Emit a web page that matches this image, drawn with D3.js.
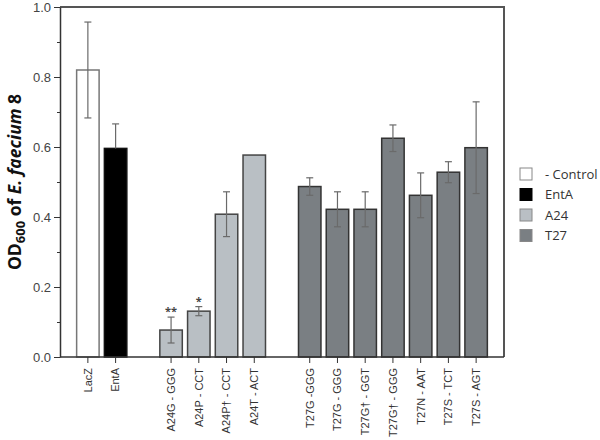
<!DOCTYPE html>
<html>
<head>
<meta charset="utf-8">
<script src="https://cdn.jsdelivr.net/npm/d3@7"></script>
<style>
  body { margin: 0; background: #fff; }
  svg { font-family: "Open Sans", "Noto Sans", sans-serif; }
</style>
</head>
<body>
<div id="chart"></div>
<script>
// bars, in order; blank entries are the empty slots between groups
var categories = ["LacZ", "EntA", "", "A24G - GGG", "A24P - CCT", "A24P\u2020 - CCT", "A24T - ACT", " ",
    "T27G -GGG", "T27G - GGG", "T27G\u2020 - GGT", "T27G\u2020 - GGG", "T27N - AAT", "T27S - TCT", "T27S - AGT"];
var groups = ["- Control", "EntA", null, "A24", "A24", "A24", "A24", null,
    "T27", "T27", "T27", "T27", "T27", "T27", "T27"];
var values = [0.82, 0.596, null, 0.077, 0.131, 0.408, 0.577, null,
    0.487, 0.422, 0.422, 0.625, 0.462, 0.528, 0.598];
var errors = [0.137, 0.07, null, 0.037, 0.013, 0.064, 0, null,
    0.025, 0.05, 0.05, 0.038, 0.064, 0.03, 0.131];
var marks = ["", "", "", "**", "*", "", "", "", "", "", "", "", "", "", ""];
var yTicks = [0, 0.2, 0.4, 0.6, 0.8, 1.0];
var yMinor = [0.1, 0.3, 0.5, 0.7, 0.9];
var legendLabels = ["- Control", "EntA", "A24", "T27"];

var width = 600, height = 440;
var plotLeft = 60, plotRight = 504, plotTop = 7, plotBottom = 357;

var color = d3.scaleOrdinal()
    .domain(legendLabels)
    .range(["#ffffff", "#000000", "#b9bfc4", "#7a7f83"]);
var strokeColor = d3.scaleOrdinal()
    .domain(legendLabels)
    .range(["#777", "#111", "#444", "#333"]);

var svg = d3.select("#chart").append("svg")
    .attr("width", width)
    .attr("height", height);

var x = d3.scaleBand()
    .domain(categories)
    .range([plotLeft, plotRight])
    .paddingInner(0.19)
    .paddingOuter(0.6);

var y = d3.scaleLinear()
    .domain([0, 1])
    .range([plotBottom, plotTop]);

var data = categories.map(function (c, i) {
    return { label: c, group: groups[i], value: values[i], err: errors[i], mark: marks[i] };
}).filter(function (d) { return d.group !== null; });

// frame (top and right)
svg.append("path")
    .attr("d", "M" + plotLeft + "," + plotTop + "H" + plotRight + "V" + plotBottom)
    .attr("fill", "none")
    .attr("stroke", "#555")
    .attr("stroke-width", 2);

// bars
svg.append("g").selectAll("rect")
    .data(data)
    .enter().append("rect")
    .attr("x", function (d) { return x(d.label); })
    .attr("y", function (d) { return y(d.value); })
    .attr("width", x.bandwidth())
    .attr("height", function (d) { return y(0) - y(d.value); })
    .attr("fill", function (d) { return color(d.group); })
    .attr("stroke", function (d) { return strokeColor(d.group); })
    .attr("stroke-width", 1.5);

// error bars
var eb = svg.append("g")
    .attr("stroke", "#6a6a6a")
    .attr("stroke-width", 1.2)
    .selectAll("g")
    .data(data.filter(function (d) { return d.err > 0; }))
    .enter().append("g")
    .attr("transform", function (d) { return "translate(" + (x(d.label) + x.bandwidth() / 2) + ",0)"; });
eb.append("line")
    .attr("y1", function (d) { return y(d.value + d.err); })
    .attr("y2", function (d) { return d.group === "EntA" ? y(d.value) : y(d.value - d.err); });
eb.append("line")
    .attr("x1", -3.5).attr("x2", 3.5)
    .attr("y1", function (d) { return y(d.value + d.err); })
    .attr("y2", function (d) { return y(d.value + d.err); });
eb.filter(function (d) { return d.group !== "EntA"; })
    .append("line")
    .attr("x1", -3.5).attr("x2", 3.5)
    .attr("y1", function (d) { return y(d.value - d.err); })
    .attr("y2", function (d) { return y(d.value - d.err); });

// significance marks
svg.append("g").selectAll("text")
    .data(data.filter(function (d) { return d.mark; }))
    .enter().append("text")
    .attr("x", function (d) { return x(d.label) + x.bandwidth() / 2; })
    .attr("y", function (d) { return y(d.value + d.err) - 2; })
    .attr("text-anchor", "middle")
    .attr("font-size", 11)
    .attr("font-weight", "bold")
    .attr("fill", "#444")
    .text(function (d) { return d.mark; });

// y axis
var yAxis = svg.append("g")
    .attr("transform", "translate(" + plotLeft + ",0)")
    .call(d3.axisLeft(y).tickValues(yTicks).tickFormat(d3.format(".1f")).tickSize(6).tickSizeOuter(0));
svg.append("g")
    .attr("transform", "translate(" + plotLeft + ",0)")
    .call(d3.axisLeft(y).tickValues(yMinor).tickFormat("").tickSize(3).tickSizeOuter(0))
    .select(".domain").remove();
yAxis.selectAll("text").attr("font-size", 13).attr("fill", "#444").attr("x", -9);
svg.selectAll(".tick line").attr("stroke", "#333");
yAxis.select(".domain").attr("stroke", "#333").attr("stroke-width", 1.5);

// x axis
var xAxis = svg.append("g")
    .attr("transform", "translate(0," + plotBottom + ")")
    .call(d3.axisBottom(x).tickSize(6).tickSizeOuter(0));
xAxis.selectAll(".tick").filter(function (d) { return d.trim() === ""; }).remove();
xAxis.select(".domain").attr("stroke", "#333").attr("stroke-width", 1.5)
    .attr("d", "M" + plotLeft + ",0H" + plotRight);
xAxis.selectAll(".tick line").attr("stroke", "#333");
xAxis.selectAll("text")
    .attr("font-size", 11)
    .attr("fill", "#333")
    .attr("transform", "rotate(-90)")
    .attr("text-anchor", "end")
    .attr("x", -11)
    .attr("y", 0)
    .attr("dy", "0.35em");

// y label
var yl = svg.append("text")
    .attr("transform", "translate(21," + ((plotTop + plotBottom) / 2) + ") rotate(-90)")
    .attr("text-anchor", "middle")
    .attr("font-size", 17.5)
    .attr("font-weight", "bold")
    .attr("fill", "#111");
yl.append("tspan").text("OD");
yl.append("tspan").attr("font-size", 13).attr("dy", 4).text("600");
yl.append("tspan").attr("dy", -4).text(" of ");
yl.append("tspan").attr("font-style", "italic").text("E. faecium");
yl.append("tspan").text(" 8");

// legend
var legend = svg.append("g")
    .attr("transform", "translate(520,168)")
    .selectAll("g")
    .data(legendLabels)
    .enter().append("g")
    .attr("transform", function (d, i) { return "translate(0," + i * 20.5 + ")"; });
legend.append("rect")
    .attr("width", 12).attr("height", 12)
    .attr("fill", function (d) { return color(d); })
    .attr("stroke", function (d) { return d === "EntA" ? "#000" : "#888"; })
    .attr("stroke-width", 1);
legend.append("text")
    .attr("x", 25).attr("y", 6)
    .attr("dy", "0.35em")
    .attr("font-size", 13)
    .attr("fill", "#333")
    .text(function (d) { return d; });
</script>
</body>
</html>
